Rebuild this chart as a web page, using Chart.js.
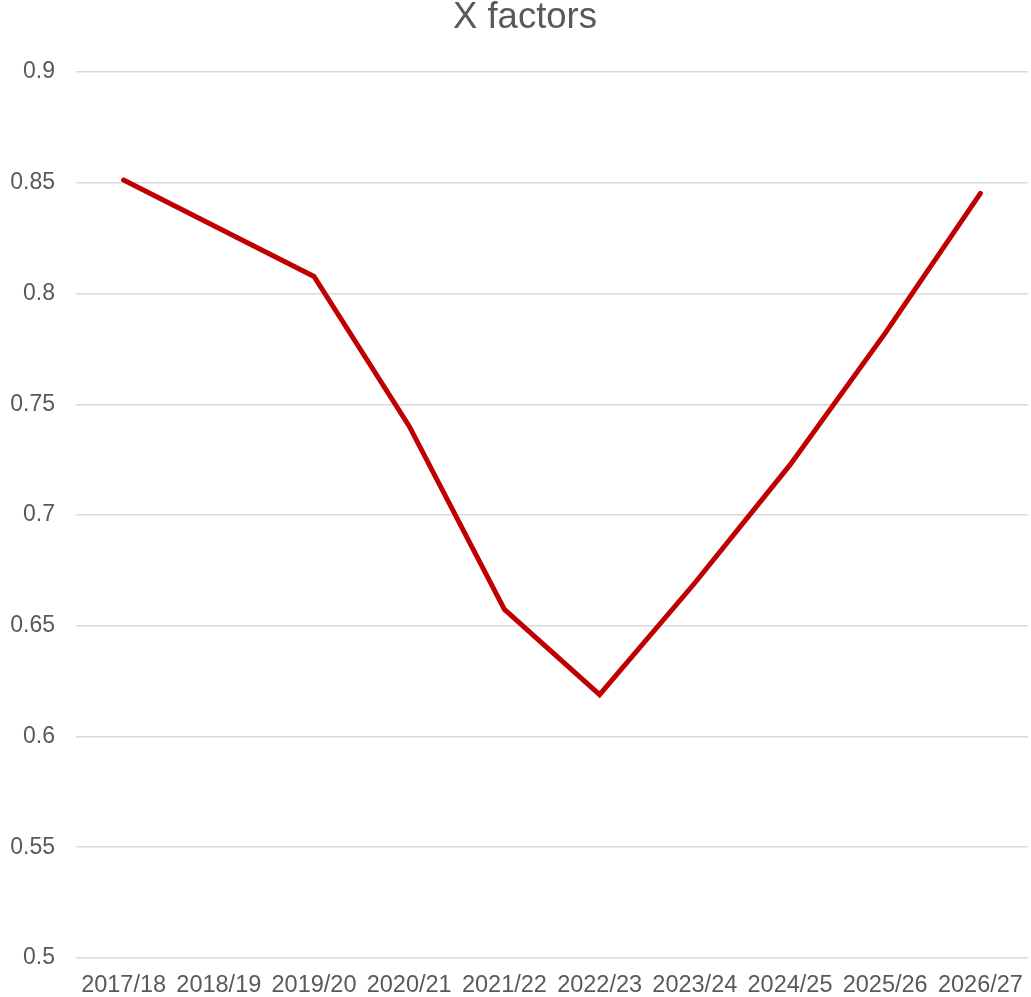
<!DOCTYPE html>
<html>
<head>
<meta charset="utf-8">
<script src="https://cdn.jsdelivr.net/npm/chart.js@4/dist/chart.umd.min.js"></script>
<style>
  html, body { margin: 0; padding: 0; background: #ffffff; overflow: hidden; }
  canvas { display: block; }
</style>
</head>
<body>
<canvas id="chart" width="1031" height="997"></canvas>
<script>
// Financial years on the horizontal axis
const years = ['2017/18', '2018/19', '2019/20', '2020/21', '2021/22',
               '2022/23', '2023/24', '2024/25', '2025/26', '2026/27'];
// X factor for each year
const xFactors = [0.8512, 0.8295, 0.8077, 0.7401, 0.6574,
                  0.6189, 0.6693, 0.7226, 0.7821, 0.8452];
// Value axis range and step
const yMin = 0.5, yMax = 0.9, yStep = 0.05;

const textColor = '#595959';
const fontFamily = '"Liberation Sans", Arial, sans-serif';

// Nudge the title a little to the right of the canvas centre
const titleShift = {
  id: 'titleShift',
  afterLayout(chart) {
    if (chart.titleBlock) {
      chart.titleBlock.left += 11;
      chart.titleBlock.right += 11;
    }
  }
};

new Chart(document.getElementById('chart'), {
  type: 'line',
  data: {
    labels: years,
    datasets: [{
      label: 'X factors',
      data: xFactors,
      borderColor: '#c00000',
      backgroundColor: '#c00000',
      borderWidth: 5,
      borderCapStyle: 'round',
      borderJoinStyle: 'miter',
      pointRadius: 0,
      pointHoverRadius: 0,
      tension: 0,
      fill: false
    }]
  },
  plugins: [titleShift],
  options: {
    responsive: false,
    animation: false,
    layout: { padding: { left: 0, right: 3, top: 0, bottom: 0 } },
    plugins: {
      legend: { display: false },
      tooltip: { enabled: false },
      title: {
        display: true,
        text: 'X factors',
        color: textColor,
        font: { family: fontFamily, size: 36.5, weight: 'normal', lineHeight: 1.0 },
        padding: { top: 0, bottom: 35.5 }
      }
    },
    scales: {
      x: {
        offset: true,
        grid: { display: false, drawTicks: false },
        border: { display: false },
        ticks: {
          color: textColor,
          font: { family: fontFamily, size: 23.5 },
          padding: 13,
          maxRotation: 0,
          autoSkip: false
        },
        afterFit(scale) {
          scale.height = 39;
          // categories are offset, so the end labels fit without extra side room
          scale.paddingLeft = 0;
          scale.paddingRight = 0;
        }
      },
      y: {
        min: yMin,
        max: yMax,
        grid: { color: '#d9d9d9', lineWidth: 1.5, drawTicks: false },
        border: { display: false },
        ticks: {
          stepSize: yStep,
          color: textColor,
          font: { family: fontFamily, size: 23 },
          padding: 21,
          callback: (v) => String(parseFloat(v.toFixed(2)))
        },
        afterFit(scale) { scale.width = 76; }
      }
    }
  }
});
</script>
</body>
</html>
